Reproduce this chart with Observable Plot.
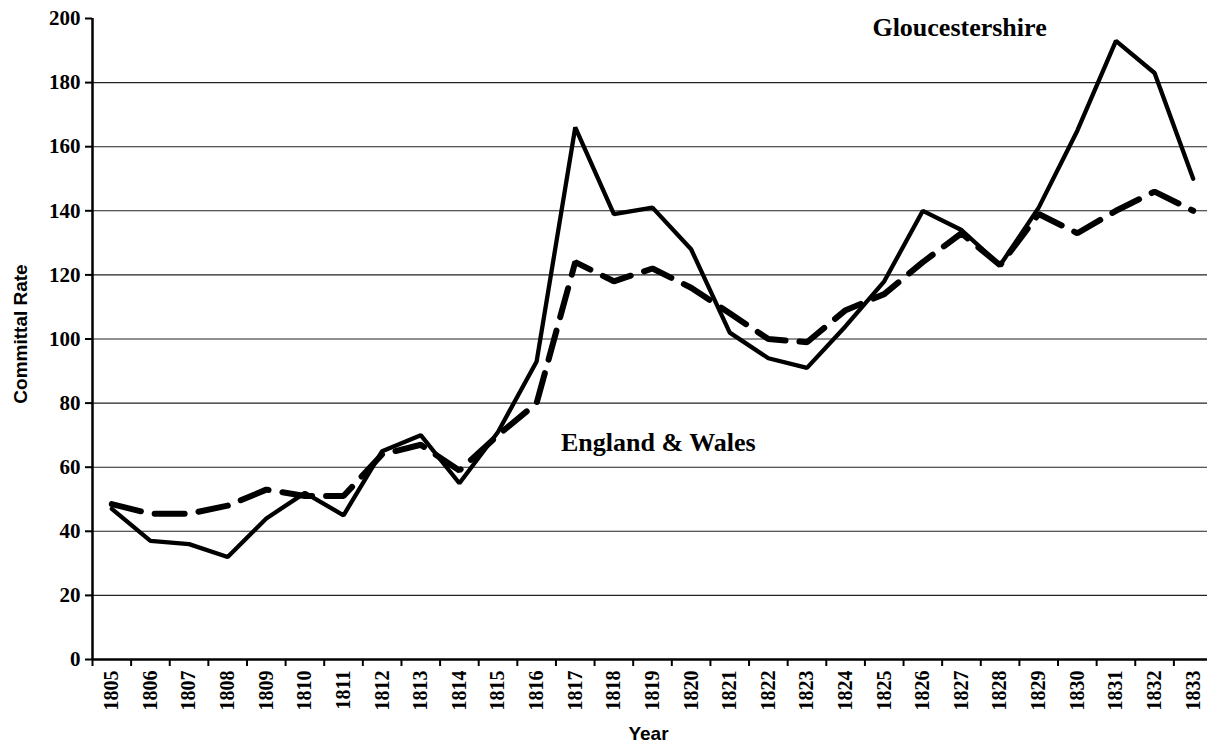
<!DOCTYPE html>
<html>
<head>
<meta charset="utf-8">
<script src="https://cdn.jsdelivr.net/npm/d3@7"></script>
<script src="https://cdn.jsdelivr.net/npm/@observablehq/plot@0.6"></script>
<style>
  html, body { margin: 0; padding: 0; background: #fff; }
  #chart svg { display: block; max-width: none; }
</style>
</head>
<body>
<div id="chart"></div>
<script>
const years = [1805,1806,1807,1808,1809,1810,1811,1812,1813,1814,1815,1816,1817,1818,1819,1820,1821,1822,1823,1824,1825,1826,1827,1828,1829,1830,1831,1832,1833];
const gloucestershire = [47,37,36,32,44,52,45,65,70,55,71,93,166,139,141,128,102,94,91,104,118,140,134,123,141,165,193,183,150];
const englandWales = [48.5,45.5,45.5,48,53,51,51,64,67,59,70,80,124,118,122,116,108,100,99,109,114,124,133,123,139,133,140,146,140];
const yTicks = [0,20,40,60,80,100,120,140,160,180,200];
const gridValues = [20,40,60,80,100,120,140,160,180];
const boundaries = [1804.5,1805.5,1806.5,1807.5,1808.5,1809.5,1810.5,1811.5,1812.5,1813.5,1814.5,1815.5,1816.5,1817.5,1818.5,1819.5,1820.5,1821.5,1822.5,1823.5,1824.5,1825.5,1826.5,1827.5,1828.5,1829.5,1830.5,1831.5,1832.5,1833.5];
const seriesLabels = ["Gloucestershire", "England & Wales"];
const labelYears = [1826.95, 1819.15];
const labelValues = [197, 67.5];

const glosData = years.map((y, i) => ({year: y, value: gloucestershire[i]}));
const ewData = years.map((y, i) => ({year: y, value: englandWales[i]}));
const labelData = seriesLabels.map((t, i) => ({text: t, year: labelYears[i], value: labelValues[i]}));

const serif = "Liberation Serif, Times New Roman, serif";
const sans = "Liberation Sans, Arial, sans-serif";

const chart = Plot.plot({
  width: 1207,
  height: 749,
  marginLeft: 92,
  marginRight: -5,
  marginTop: 18,
  marginBottom: 90,
  style: {background: "#fff", color: "#000"},
  x: {type: "linear", domain: [1804.5, 1833.5]},
  y: {domain: [0, 200]},
  marks: [
    Plot.ruleY(gridValues, {stroke: "#222", strokeWidth: 1.1}),
    Plot.line(ewData, {x: "year", y: "value", stroke: "#000", strokeWidth: 6, strokeDasharray: "30,14", strokeLinejoin: "miter"}),
    Plot.line(glosData, {x: "year", y: "value", stroke: "#000", strokeWidth: 4.3, strokeLinejoin: "miter"}),
    Plot.ruleY([0], {stroke: "#000", strokeWidth: 2.5}),
    Plot.ruleX([1804.5], {y1: 0, y2: 200, stroke: "#000", strokeWidth: 2.5}),
    Plot.axisY({ticks: yTicks, tickSize: 7, tickPadding: 5, tickFormat: d => String(d), label: null,
      fontSize: 21, fontFamily: serif, fontWeight: "bold", strokeWidth: 2}),
    Plot.axisX({ticks: boundaries, tickSize: 7, tickFormat: () => "", label: null, strokeWidth: 2}),
    Plot.axisX({ticks: years, tickSize: 0, tickPadding: 11, tickRotate: -90, tickFormat: d => String(d), label: null,
      fontSize: 20, fontFamily: serif, fontWeight: "bold"}),
    Plot.text(labelData, {x: "year", y: "value", text: "text", fontSize: 26, fontFamily: serif, fontWeight: "bold", fill: "#000"}),
    Plot.text(["Year"], {frameAnchor: "bottom", dy: 80, dx: -4, fontSize: 19, fontFamily: sans, fontWeight: "bold", fill: "#000"}),
    Plot.text(["Committal Rate"], {frameAnchor: "left", textAnchor: "middle", dx: -72, dy: -5, rotate: -90, fontSize: 19, fontFamily: sans, fontWeight: "bold", fill: "#000"})
  ]
});
document.getElementById("chart").appendChild(chart);
</script>
</body>
</html>
